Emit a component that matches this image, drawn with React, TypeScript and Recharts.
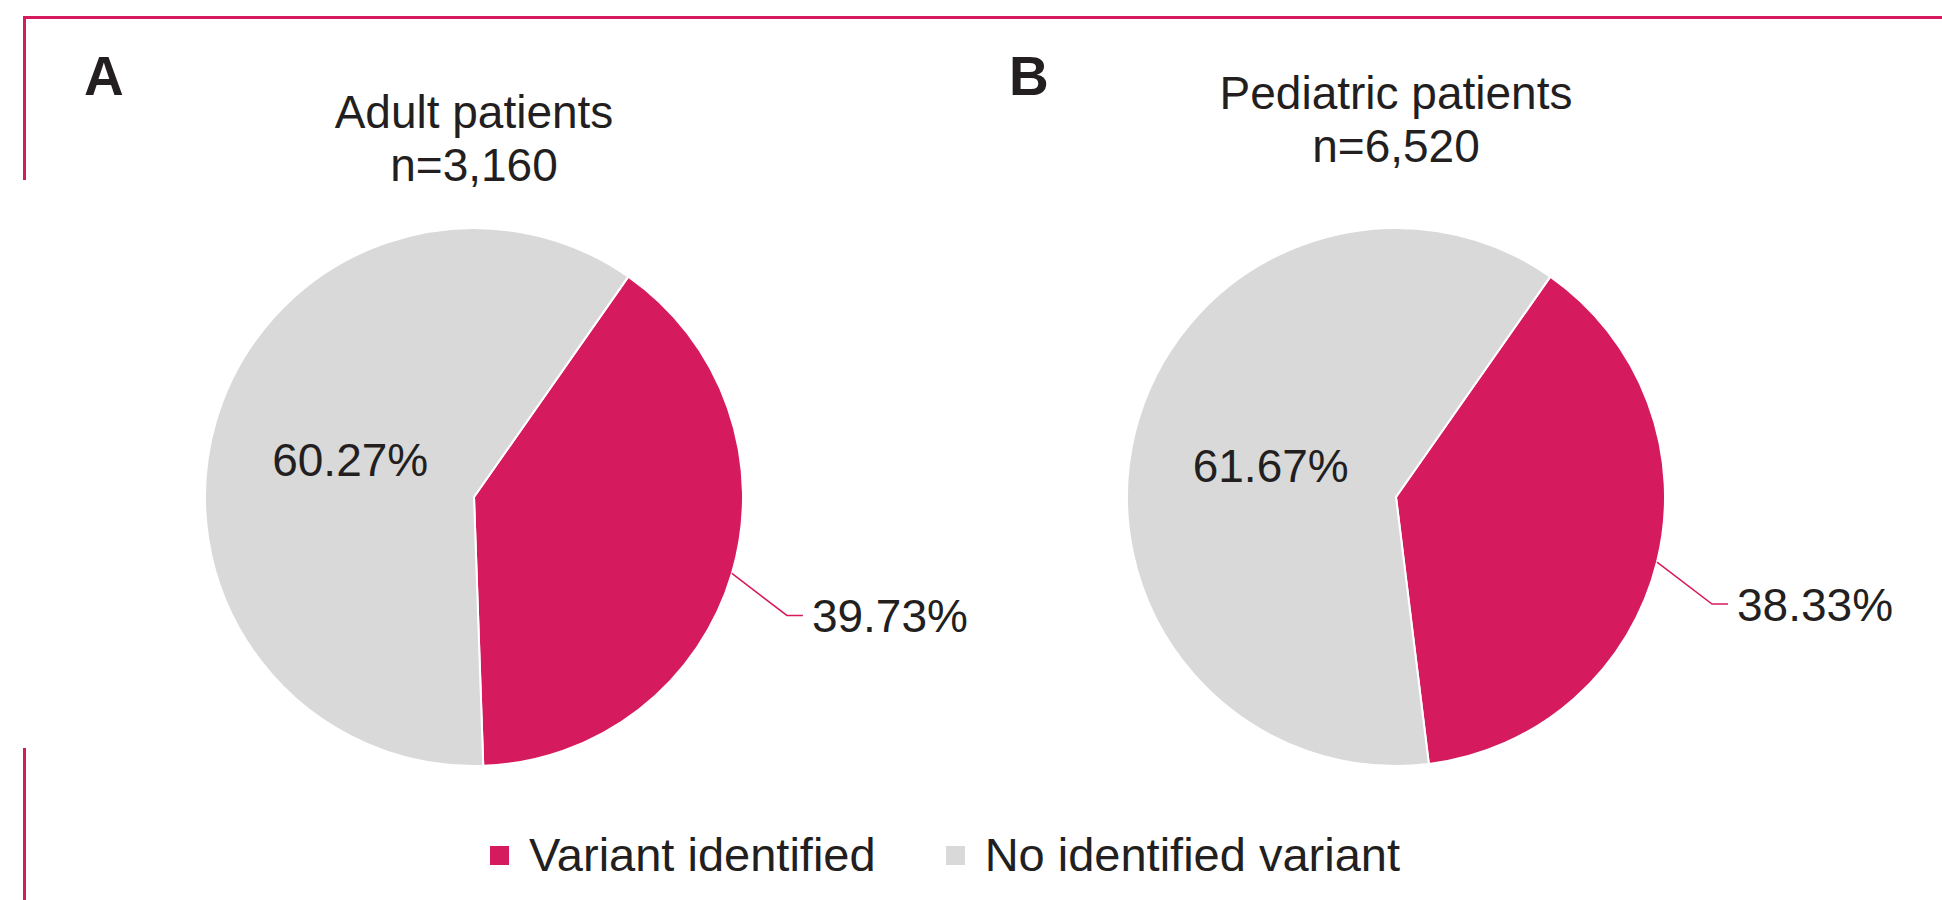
import React from 'react';
import { PieChart, Pie, Cell, Legend } from 'recharts';

// legend categories, same order as the slices
const categories = ['Variant identified', 'No identified variant'];
const adultValues = [39.73, 60.27];
const pediatricValues = [38.33, 61.67];

const panelLetters = ['A', 'B'];
const panelTitles = ['Adult patients', 'Pediatric patients'];
const panelCounts = ['n=3,160', 'n=6,520'];

const COLORS = ['#d51a5e', '#d9d9d9'];
const TEXT = '#231f20';
const FONT = '"Liberation Sans", Arial, Helvetica, sans-serif';
const RAD = Math.PI / 180;

const adultData = categories.map((name, i) => ({ name, value: adultValues[i] }));
const pediatricData = categories.map((name, i) => ({ name, value: pediatricValues[i] }));

function makeLabel(values: number[]) {
  return (props: any) => {
    const { cx, cy, midAngle, outerRadius, index } = props;
    const cos = Math.cos(-midAngle * RAD);
    const sin = Math.sin(-midAngle * RAD);
    const text = `${values[index].toFixed(2)}%`;

    if (index === 1) {
      // inside label on the grey slice
      const r = outerRadius * 0.48;
      return (
        <text
          x={cx + r * cos}
          y={cy + r * sin + 16}
          textAnchor="middle"
          fill={TEXT}
          fontSize={46}
          fontFamily={FONT}
        >
          {text}
        </text>
      );
    }

    // outside label with a bent leader line
    const sx = cx + outerRadius * cos;
    const sy = cy + outerRadius * sin;
    const mx = sx + 55;
    const my = sy + 42;
    const ex = mx + 16;
    return (
      <g>
        <polyline
          points={`${sx},${sy} ${mx},${my} ${ex},${my}`}
          stroke={COLORS[0]}
          strokeWidth={1.5}
          fill="none"
        />
        <text x={ex + 9} y={my + 17} fill={TEXT} fontSize={46} fontFamily={FONT}>
          {text}
        </text>
      </g>
    );
  };
}

function LegendContent() {
  return (
    <div style={{ display: 'flex', alignItems: 'center', fontFamily: FONT, fontSize: 47, lineHeight: '46px', color: TEXT, whiteSpace: 'nowrap' }}>
      {categories.map((c, i) => (
        <div key={c} style={{ display: 'flex', alignItems: 'center', marginRight: i === 0 ? 70 : 0 }}>
          <span style={{ display: 'inline-block', width: 19, height: 19, background: COLORS[i], marginRight: 20 }} />
          <span>{c}</span>
        </div>
      ))}
    </div>
  );
}

export default function App() {
  const centers = [474, 1396];
  return (
    <div style={{ position: 'absolute', left: 0, top: 0, width: 1942, height: 900, background: '#fff' }}>
      <PieChart width={1942} height={900} margin={{ top: 0, right: 0, bottom: 0, left: 0 }}>
        <Pie
          data={adultData}
          dataKey="value"
          nameKey="name"
          cx={474}
          cy={497}
          outerRadius={269}
          startAngle={55}
          endAngle={-305}
          stroke="#fff"
          strokeWidth={2}
          label={makeLabel(adultValues)}
          labelLine={false}
          isAnimationActive={false}
        >
          {adultData.map((d, i) => (
            <Cell key={`a-${i}`} fill={COLORS[i]} />
          ))}
        </Pie>
        <Pie
          data={pediatricData}
          dataKey="value"
          nameKey="name"
          cx={1396}
          cy={497}
          outerRadius={269}
          startAngle={55}
          endAngle={-305}
          stroke="#fff"
          strokeWidth={2}
          label={makeLabel(pediatricValues)}
          labelLine={false}
          isAnimationActive={false}
        >
          {pediatricData.map((d, i) => (
            <Cell key={`p-${i}`} fill={COLORS[i]} />
          ))}
        </Pie>
        <Legend
          content={<LegendContent />}
          wrapperStyle={{ position: 'absolute', left: 490, top: 832, width: 'auto' }}
        />
      </PieChart>

      {/* frame, panel letters and titles */}
      <svg width={1942} height={900} style={{ position: 'absolute', left: 0, top: 0, pointerEvents: 'none' }}>
        <line x1={23} y1={17.5} x2={1942} y2={17.5} stroke={COLORS[0]} strokeWidth={3} />
        <line x1={24.5} y1={16} x2={24.5} y2={180} stroke={COLORS[0]} strokeWidth={3} />
        <line x1={24.5} y1={748} x2={24.5} y2={900} stroke={COLORS[0]} strokeWidth={3} />
        {panelLetters.map((l, i) => (
          <text key={l} x={i === 0 ? 84 : 1009} y={95} fontSize={55} fontWeight="bold" fontFamily={FONT} fill={TEXT}>
            {l}
          </text>
        ))}
        {panelTitles.map((t, i) => (
          <text key={t} x={centers[i]} y={i === 0 ? 128 : 109} textAnchor="middle" fontSize={46} fontFamily={FONT} fill={TEXT}>
            {t}
          </text>
        ))}
        {panelCounts.map((t, i) => (
          <text key={t} x={centers[i]} y={i === 0 ? 181 : 162} textAnchor="middle" fontSize={46} fontFamily={FONT} fill={TEXT}>
            {t}
          </text>
        ))}
      </svg>
    </div>
  );
}
